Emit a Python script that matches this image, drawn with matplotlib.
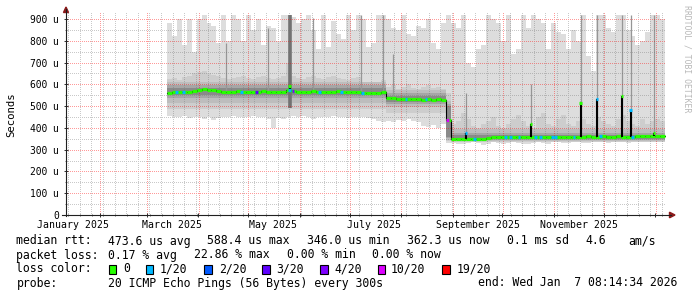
import numpy as np
import pandas as pd
import matplotlib
matplotlib.use("Agg")
import matplotlib.pyplot as plt
import matplotlib.dates as mdates
from matplotlib.ticker import MultipleLocator, FuncFormatter, NullFormatter
from matplotlib.patches import Polygon, Rectangle
from matplotlib.lines import Line2D

# ---------------------------------------------------------------- data
view_start = "2025-01-11 12:00"
view_end = "2026-01-07 08:14:34"
first_bin = "2025-03-13"
bin_days = 3

# values in microseconds, one per 3-day bin
rtt_max = [880, 820, 900, 780, 900, 750, 900, 920, 880, 870, 790, 920, 800, 920, 900, 800, 920, 850, 900, 780,
           870, 860, 800, 920, 920, 910, 880, 900, 920, 850, 760, 920, 770, 890, 830, 810, 920, 850, 920, 900,
           770, 790, 920, 920, 900, 860, 850, 920, 830, 820, 870, 860, 900, 790, 760, 880, 920, 880, 860, 920,
           700, 680, 760, 780, 920, 900, 880, 800, 920, 740, 760, 920, 860, 920, 900, 880, 760, 880, 840, 830,
           760, 850, 800, 920, 730, 660, 920, 920, 860, 840, 920, 920, 850, 820, 780, 800, 840, 920, 920, 900]
rtt_min = [455, 452, 450, 455, 445, 450, 448, 440, 450, 438, 445, 452, 450, 455, 450, 452, 450, 455, 450, 450,
           440, 400, 445, 440, 450, 455, 450, 453, 450, 440, 452, 450, 450, 455, 450, 452, 445, 450, 448, 452,
           445, 440, 432, 428, 430, 425, 435, 430, 440, 430, 425, 410, 405, 415, 400, 420, 330, 330, 325, 328,
           332, 335, 330, 322, 328, 333, 330, 326, 332, 335, 330, 328, 325, 332, 334, 330, 328, 333, 335, 331,
           329, 334, 336, 332, 330, 334, 336, 333, 331, 335, 336, 334, 332, 335, 336, 333, 334, 336, 335, 334]
rtt_median = [562, 565, 566, 565, 567, 568, 575, 577, 576, 574, 568, 567, 566, 567, 568, 567, 566, 567, 566, 568,
              567, 565, 566, 567, 575, 568, 567, 566, 567, 568, 567, 566, 565, 567, 568, 566, 565, 567, 566, 560,
              559, 560, 558, 566, 538, 536, 533, 532, 531, 532, 531, 530, 531, 530, 531, 530, 437, 347, 348, 350,
              349, 348, 350, 351, 352, 356, 357, 358, 357, 356, 358, 359, 357, 358, 359, 359, 360, 358, 357, 359,
              360, 359, 358, 360, 361, 359, 360, 361, 360, 359, 361, 360, 358, 360, 361, 362, 361, 363, 364, 365]
smoke_mid_hi = [625, 630, 620, 635, 640, 650, 655, 660, 650, 645, 640, 630, 625, 630, 635, 640, 630, 625, 635, 640,
                630, 625, 630, 640, 700, 640, 630, 625, 635, 640, 630, 625, 635, 640, 630, 625, 620, 630, 635, 610,
                605, 610, 600, 620, 590, 595, 580, 590, 600, 585, 580, 590, 595, 585, 590, 580, 560, 420, 430, 470,
                440, 410, 400, 420, 430, 450, 410, 400, 420, 440, 460, 430, 410, 400, 450, 470, 420, 410, 440, 460,
                420, 410, 430, 440, 420, 410, 450, 430, 420, 410, 440, 460, 430, 420, 410, 440, 420, 430, 440, 430]

# piecewise-constant inner smoke levels (number of bins per segment)
segment_bins = [44, 12, 1, 43]
smoke_mid_lo = [488, 468, 340, 337]
smoke_inner_lo = [515, 495, 345, 340]
smoke_inner_hi = [612, 572, 525, 395]
smoke_deep_lo = [535, 510, 352, 344]
smoke_deep_hi = [595, 558, 510, 378]
smoke_core_lo = [551, 521, 360, 348]
smoke_core_hi = [581, 546, 500, 369]

# grey streaks (a few slow pings)
streak_dates = ["2025-04-18", "2025-05-13", "2025-06-09", "2025-07-08", "2025-07-21", "2025-07-27",
                "2025-09-09", "2025-10-18", "2025-11-17", "2025-11-27", "2025-12-12", "2025-12-17", "2025-12-31"]
streak_lo = [570, 570, 570, 565, 565, 540, 360, 360, 365, 365, 365, 365, 365]
streak_hi = [790, 860, 905, 920, 920, 740, 560, 600, 920, 920, 920, 920, 920]
broad_streak_dates = ["2025-05-26"]
broad_streak_lo = [490]
broad_streak_hi = [920]

# median spikes: date, top value, lost pings (of 20)
spike_dates = ["2025-05-26", "2025-09-09", "2025-10-18", "2025-11-17", "2025-11-27", "2025-12-12",
               "2025-12-17", "2025-12-31"]
spike_top = [594, 375, 420, 515, 534, 548, 480, 378]
spike_loss = [0, 1, 0, 0, 1, 0, 1, 0]

# packet loss events on the median line
loss_dates = ["2025-03-19", "2025-03-23", "2025-04-27", "2025-05-06", "2025-05-26", "2025-05-28",
              "2025-06-13", "2025-06-26", "2025-07-09", "2025-08-04", "2025-08-16", "2025-08-29",
              "2025-09-14", "2025-10-03", "2025-10-06", "2025-10-11", "2025-10-21", "2025-10-24",
              "2025-10-31", "2025-11-02", "2025-11-13", "2025-11-29", "2025-12-18"]
loss_level = [1, 1, 1, 3, 1, 4, 1, 1, 1, 1, 1, 10, 1, 1, 1, 1, 1, 1, 1, 1, 1, 1, 1]

loss_keys = [0, 1, 2, 3, 4, 10, 19]
loss_labels = ["0", "1/20", "2/20", "3/20", "4/20", "10/20", "19/20"]
loss_colors = ["#26ff00", "#00b8ff", "#0059ff", "#5e00ff", "#7e00ff", "#dd00ff", "#ff0000"]

month_label_dates = ["2025-01-01", "2025-03-01", "2025-05-01", "2025-07-01", "2025-09-01", "2025-11-01"]
month_label_text = ["January 2025", "March 2025", "May 2025", "July 2025", "September 2025", "November 2025"]

rtt_summary = ["median rtt:", "473.6 us avg", "588.4 us max", "346.0 us min", "362.3 us now",
               "0.1 ms sd", "4.6", "am/s"]
loss_summary = ["packet loss:", "0.17 % avg", "22.86 % max", "0.00 % min", "0.00 % now"]
probe_text = ["probe:", "20 ICMP Echo Pings (56 Bytes) every 300s", "end: Wed Jan  7 08:14:34 2026"]

# ---------------------------------------------------------------- figure
W, H = 697, 297
MONO = "DejaVu Sans Mono"
fig = plt.figure(figsize=(W / 100, H / 100), dpi=100)
fig.patch.set_facecolor("white")


def fx(x):
    return x / W


def fy(y):
    return 1 - y / H


AX_L, AX_R, AX_T, AX_B = 66, 666, 13, 215
PW, PH = AX_R - AX_L, AX_B - AX_T
Y_TOP = PH / (196.0 / 900.0)  # 900 u sits 196 px above the baseline
ax = fig.add_axes([fx(AX_L), fy(AX_B), PW / W, PH / H])
ax.set_facecolor("white")
x_lo = mdates.date2num(pd.Timestamp(view_start))
x_hi = mdates.date2num(pd.Timestamp(view_end))
for s in ax.spines.values():
    s.set_visible(False)

n = len(rtt_median)
edges = pd.Timestamp(first_bin) + pd.to_timedelta(np.arange(n + 1) * bin_days, unit="D")
xe = mdates.date2num(edges)


def sv(a):
    a = np.asarray(a, float)
    return np.append(a, a[-1])


def seg(a):
    return np.repeat(np.asarray(a, float), segment_bins)


layers = [
    (rtt_min, rtt_max, "#dddddd"),
    (seg(smoke_mid_lo), smoke_mid_hi, "#cdcdcd"),
    (seg(smoke_inner_lo), seg(smoke_inner_hi), "#bdbdbd"),
    (seg(smoke_deep_lo), seg(smoke_deep_hi), "#a6a6a6"),
    (seg(smoke_core_lo), seg(smoke_core_hi), "#8a8a8a"),
]
for lo, hi, c in layers:
    ax.fill_between(xe, sv(lo), sv(hi), step="post", color=c, lw=0, zorder=1)

med = np.asarray(rtt_median, float)
b0 = pd.Timestamp(first_bin)


def bin_index(d):
    return int((pd.Timestamp(d) - b0).days // bin_days)


sx = mdates.date2num(pd.to_datetime(streak_dates))
ax.vlines(sx, streak_lo, streak_hi, colors="#969696", lw=0.9, zorder=1.2)
bx = mdates.date2num(pd.to_datetime(broad_streak_dates))
ax.vlines(bx, broad_streak_lo, broad_streak_hi, colors="#727272", lw=2.6, zorder=1.2)

# ticks
ax.xaxis.set_major_locator(mdates.MonthLocator())
ax.xaxis.set_minor_locator(mdates.WeekdayLocator(byweekday=mdates.MO))
ax.xaxis.set_major_formatter(NullFormatter())
ax.yaxis.set_major_locator(MultipleLocator(100))
ax.yaxis.set_minor_locator(MultipleLocator(50))
ax.yaxis.set_major_formatter(FuncFormatter(lambda v, p: "0" if v == 0 else f"{int(v)} u"))
ax.tick_params(which="major", length=3, width=0.7, direction="inout", color="#303030",
               labelsize=6.9, pad=3.5)
ax.tick_params(which="minor", length=1.6, width=0.6, direction="inout", color="#505050")

# dotted rrdtool-style grid as a pixel overlay (1 px on, 1 px off)
grid = np.zeros((PH, PW, 4))
minor_rgba = (0.45, 0.45, 0.45, 0.38)
major_rgba = (1.0, 0.0, 0.0, 0.40)


def col_of(t):
    return int(np.floor((t - x_lo) / (x_hi - x_lo) * PW))


def row_of(v):
    return int(round(PH - v / Y_TOP * PH))


weeks = mdates.date2num(pd.date_range(view_start, view_end, freq="W-MON").normalize())
months = mdates.date2num(pd.date_range(view_start, view_end, freq="MS"))
for t in weeks:
    c = col_of(t)
    if 0 < c < PW:
        grid[0::2, c] = minor_rgba
for v in np.arange(50, Y_TOP, 100):
    r = row_of(v)
    if 0 <= r < PH:
        grid[r, 0::2] = minor_rgba
for t in months:
    c = col_of(t)
    if 0 < c < PW:
        grid[0::2, c] = major_rgba
for v in np.arange(100, Y_TOP, 100):
    r = row_of(v)
    if 0 <= r < PH:
        grid[r, 0::2] = major_rgba
ax.imshow(grid, extent=(x_lo, x_hi, 0, Y_TOP), aspect="auto", interpolation="nearest",
          origin="upper", zorder=1.5)
ax.set_xlim(x_lo, x_hi)
ax.set_ylim(0, Y_TOP)
for lab in ax.get_yticklabels():
    lab.set_family(MONO)

# median
ax.step(xe, sv(med), where="post", color="black", lw=0.8, zorder=2)
ax.hlines(med, xe[:-1], xe[1:], colors=loss_colors[0], lw=2.3, zorder=3, capstyle="butt")

cmap = dict(zip(loss_keys, loss_colors))
for d, lv in zip(loss_dates, loss_level):
    t = mdates.date2num(pd.Timestamp(d))
    ax.hlines(med[bin_index(d)], t - 0.8, t + 0.8, colors=cmap[lv], lw=2.3, zorder=4, capstyle="butt")

for d, top, lv in zip(spike_dates, spike_top, spike_loss):
    t = mdates.date2num(pd.Timestamp(d))
    ax.vlines(t, med[bin_index(d)], top, colors="black", lw=1.5, zorder=3.5)
    ax.hlines(top, t - 0.7, t + 0.7, colors=cmap[lv], lw=2.3, zorder=4, capstyle="butt")

# month labels centred half a month after the month start
for d, s in zip(month_label_dates, month_label_text):
    t = mdates.date2num(pd.Timestamp(d) + pd.Timedelta(days=15))
    ax.text(t, (AX_B - 225.5) / PH, s, transform=ax.get_xaxis_transform(),
            ha="center", va="center", fontsize=7.1, family=MONO, color="black")

# axis lines and arrows
arrow_c = "#8b1a1a"
fig.add_artist(Line2D([fx(66), fx(66)], [fy(AX_B + 1), fy(9)], color="#202020", lw=0.8,
                      transform=fig.transFigure))
fig.add_artist(Line2D([fx(62), fx(671)], [fy(AX_B), fy(AX_B)], color="#202020", lw=0.8,
                      transform=fig.transFigure))
fig.add_artist(Polygon([[fx(63.5), fy(12.5)], [fx(68.5), fy(12.5)], [fx(66), fy(7)]], closed=True,
                       color=arrow_c, transform=fig.transFigure))
fig.add_artist(Polygon([[fx(669.5), fy(AX_B - 2.8)], [fx(669.5), fy(AX_B + 2.8)], [fx(675), fy(AX_B)]],
                       closed=True, color=arrow_c, transform=fig.transFigure))

# y label and watermark
fig.text(fx(11), fy(114.4), "Seconds", rotation=90, ha="center", va="center",
         fontsize=7.7, family=MONO)
fig.text(fx(686.5), fy(5), "RRDTOOL / TOBI OETIKER", rotation=270, ha="center", va="top",
         fontsize=5.9, family=MONO, color="#b8b8b8")

# legend block
LEG_FS = 8.3
row_y = [241, 255, 269, 283]
rtt_x = [16.4, 107.6, 207.1, 307.1, 407.1, 506.7, 585.7, 628]
for s, x in zip(rtt_summary, rtt_x):
    fig.text(fx(x), fy(row_y[0]), s, ha="left", va="center", fontsize=LEG_FS, family=MONO)
loss_x = [16.4, 107.6, 194.2, 286.7, 372.4]
for s, x in zip(loss_summary, loss_x):
    fig.text(fx(x), fy(row_y[1]), s, ha="left", va="center", fontsize=LEG_FS, family=MONO)
fig.text(fx(16.4), fy(row_y[2]), "loss color:", ha="left", va="center", fontsize=LEG_FS, family=MONO)
box_x = [108.9, 145.8, 204.4, 262.2, 320.0, 377.8, 442.4]
lab_x = [123.6, 160.0, 218.7, 276.4, 334.2, 391.1, 456.6]
for bx_, lx_, lab, c in zip(box_x, lab_x, loss_labels, loss_colors):
    fig.add_artist(Rectangle((fx(bx_), fy(row_y[2] + 4.5)), 7.5 / W, 9 / H, facecolor=c,
                             edgecolor="black", lw=0.8, transform=fig.transFigure))
    fig.text(fx(lx_), fy(row_y[2]), lab, ha="left", va="center", fontsize=LEG_FS, family=MONO)
probe_x = [16.4, 107.6, 478.5]
for s, x in zip(probe_text, probe_x):
    fig.text(fx(x), fy(row_y[3]), s, ha="left", va="center", fontsize=LEG_FS, family=MONO)

fig.savefig("out.png", dpi=100, facecolor="white")
